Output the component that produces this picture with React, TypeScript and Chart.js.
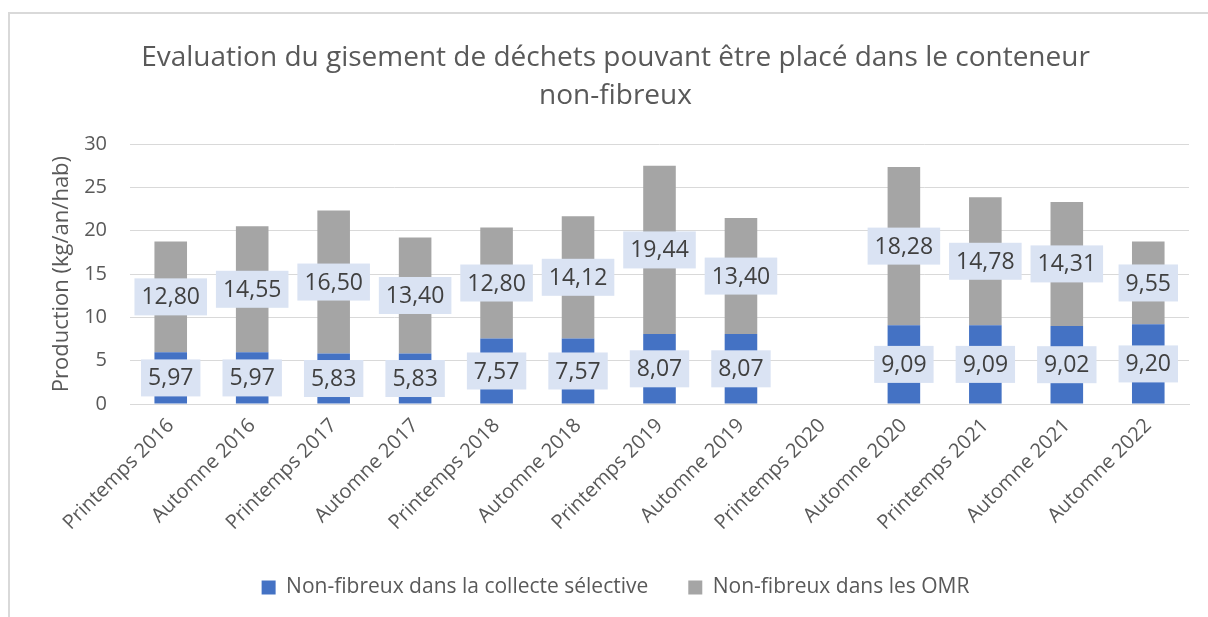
import React, { useEffect, useRef } from "react";
import { Chart, registerables } from "chart.js";
Chart.register(...registerables);

const categories = [
  "Printemps 2016", "Automne 2016", "Printemps 2017", "Automne 2017",
  "Printemps 2018", "Automne 2018", "Printemps 2019", "Automne 2019",
  "Printemps 2020", "Automne 2020", "Printemps 2021", "Automne 2021", "Automne 2022",
];
const selective = [5.97, 5.97, 5.83, 5.83, 7.57, 7.57, 8.07, 8.07, null, 9.09, 9.09, 9.02, 9.2];
const omr = [12.8, 14.55, 16.5, 13.4, 12.8, 14.12, 19.44, 13.4, null, 18.28, 14.78, 14.31, 9.55];
const seriesNames = ["Non-fibreux dans la collecte sélective", "Non-fibreux dans les OMR"];
const titleLines = ["Evaluation du gisement de déchets pouvant être placé dans le conteneur", "non-fibreux"];
const yAxisTitle = "Production (kg/an/hab)";

const FONT = "'Open Sans', sans-serif";

const boxLabels = {
  id: "boxLabels",
  afterDatasetsDraw(chart: any) {
    const ctx = chart.ctx;
    ctx.save();
    ctx.font = `23px ${FONT}`;
    ctx.textAlign = "center";
    ctx.textBaseline = "middle";
    chart.data.datasets.forEach((ds: any, di: number) => {
      const meta = chart.getDatasetMeta(di);
      meta.data.forEach((el: any, i: number) => {
        const v = ds.data[i];
        if (v == null) return;
        const { x, y, base } = el.getProps(["x", "y", "base"], true);
        const cy = (y + base) / 2;
        const text = v.toFixed(2).replace(".", ",");
        const w = ctx.measureText(text).width + 14;
        const h = 37;
        ctx.fillStyle = "#dae3f3";
        ctx.fillRect(x - w / 2, cy - h / 2, w, h);
        ctx.fillStyle = "#404040";
        ctx.fillText(text, x, cy + 1);
      });
    });
    ctx.restore();
  },
};

export default function App() {
  const ref = useRef<HTMLCanvasElement>(null);
  useEffect(() => {
    document.body.style.overflow = "hidden";
    const chart = new Chart(ref.current!, {
      type: "bar",
      data: {
        labels: categories,
        datasets: [
          { label: seriesNames[0], data: selective, backgroundColor: "#4472c4", barPercentage: 0.4, categoryPercentage: 1 },
          { label: seriesNames[1], data: omr, backgroundColor: "#a5a5a5", barPercentage: 0.4, categoryPercentage: 1 },
        ],
      },
      options: {
        animation: false,
        responsive: false,
        layout: { padding: { left: 42, right: 19, top: 0, bottom: 9 } },
        plugins: {
          title: {
            display: true,
            text: titleLines,
            color: "#595959",
            font: { family: FONT, size: 28, weight: "normal", lineHeight: 1.36 },
            padding: { top: 39, bottom: 29 },
          },
          legend: {
            position: "bottom",
            labels: {
              color: "#595959",
              font: { family: FONT, size: 21 },
              boxWidth: 14,
              boxHeight: 14,
              padding: 40,
            },
          },
          tooltip: { enabled: false },
        },
        scales: {
          x: {
            stacked: true,
            grid: { display: false },
            border: { color: "#d9d9d9" },
            ticks: { color: "#595959", font: { family: FONT, size: 20 }, maxRotation: 45, minRotation: 45, padding: 2 },
            afterFit: (scale: any) => {
              scale.paddingLeft = 0;
            },
          },
          y: {
            stacked: true,
            min: 0,
            max: 30,
            grid: { color: "#d9d9d9", drawTicks: false },
            border: { display: false },
            ticks: { stepSize: 5, color: "#595959", font: { family: FONT, size: 20 }, padding: 23 },
            title: { display: true, text: yAxisTitle, color: "#595959", font: { family: FONT, size: 22 }, padding: { top: 7, bottom: 8 } },
            afterFit: (scale: any) => {
              scale.width = 88;
            },
          },
        },
      },
      plugins: [boxLabels],
    });
    return () => chart.destroy();
  }, []);
  return (
    <div style={{ position: "fixed", left: 0, top: 0, width: 1208, height: 617, overflow: "hidden", background: "#fff" }}>
      <div style={{ position: "absolute", left: 8, top: 12, width: 1400, height: 800, borderLeft: "2px solid #d9d9d9", borderTop: "2px solid #d9d9d9" }} />
      <canvas ref={ref} width={1208} height={617} style={{ position: "absolute", left: 0, top: 0 }} />
    </div>
  );
}
